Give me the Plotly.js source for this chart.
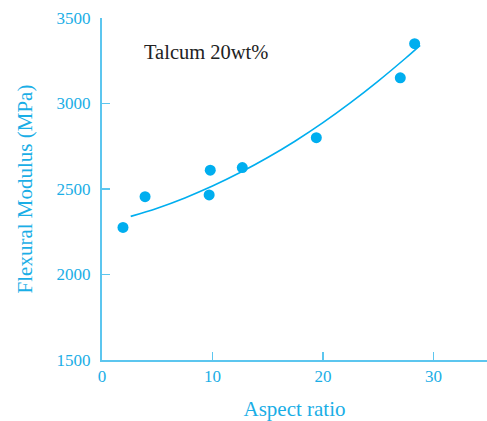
<!DOCTYPE html>
<html>
<head>
<meta charset="utf-8">
<script src="https://cdn.plot.ly/plotly-3.0.1.min.js"></script>
<style>html,body{margin:0;padding:0;background:#fff;}#chart{width:487px;height:421px;}</style>
</head>
<body>
<div id="chart"></div>
<script>
// Measured data points (aspect ratio vs flexural modulus, MPa)
const aspectRatio = [1.9, 3.9, 9.8, 9.7, 12.7, 19.4, 27.0, 28.3];
const modulus     = [2275, 2455, 2610, 2465, 2625, 2800, 3150, 3350];
// Trend curve
const curveX = [2.6, 5, 7.5, 10, 12.5, 15, 17.5, 20, 22.5, 25, 27.5, 28.8];
const curveY = [2340, 2388, 2448, 2517, 2596, 2684, 2781, 2888, 3005, 3131, 3266, 3340];
const xTicks = [0, 10, 20, 30];
const yTicks = [1500, 2000, 2500, 3000, 3500];
const annotationText = 'Talcum 20wt%';

const cyanText = '#1aaee6';
const cyanLine = '#5cc6ef';
const markerColor = '#00aeef';
const fontFam = '"Liberation Serif", "DejaVu Serif", serif';

const traces = [
  {x: curveX, y: curveY, mode: 'lines', type: 'scatter', line: {color: markerColor, width: 1.6, shape: 'spline'}, hoverinfo: 'skip'},
  {x: aspectRatio, y: modulus, mode: 'markers', type: 'scatter', marker: {color: markerColor, size: 11}}
];

const layout = {
  width: 487, height: 421,
  margin: {l: 102, r: 0, t: 18, b: 61},
  paper_bgcolor: '#fff', plot_bgcolor: '#fff',
  showlegend: false,
  font: {family: fontFam, color: cyanText},
  xaxis: {
    range: [0, 34.85], tickvals: xTicks, ticktext: xTicks.map(String),
    showgrid: false, zeroline: false, showline: true, linecolor: cyanLine, linewidth: 2,
    ticks: 'inside', ticklen: 8, tickwidth: 1.5, tickcolor: cyanLine,
    tickfont: {size: 17, color: cyanText, family: fontFam},
    title: {text: 'Aspect ratio', font: {size: 21, color: cyanText, family: fontFam}, standoff: 16}
  },
  yaxis: {
    range: [1500, 3500], tickvals: yTicks, ticktext: yTicks.map(String),
    showgrid: false, zeroline: false, showline: true, linecolor: cyanLine, linewidth: 2,
    ticks: 'inside', ticklen: 8, tickwidth: 1.5, tickcolor: cyanLine,
    ticklabelstandoff: 6,
    tickfont: {size: 17, color: cyanText, family: fontFam},
    title: {text: 'Flexural Modulus (MPa)', font: {size: 21, color: cyanText, family: fontFam}, standoff: 18}
  },
  annotations: [{
    x: 3.6, y: 3300, xref: 'x', yref: 'y', xanchor: 'left', yanchor: 'middle',
    text: annotationText, showarrow: false,
    font: {size: 20.5, color: '#222', family: fontFam}
  }]
};

Plotly.newPlot('chart', traces, layout, {displayModeBar: false, staticPlot: true});
</script>
</body>
</html>
